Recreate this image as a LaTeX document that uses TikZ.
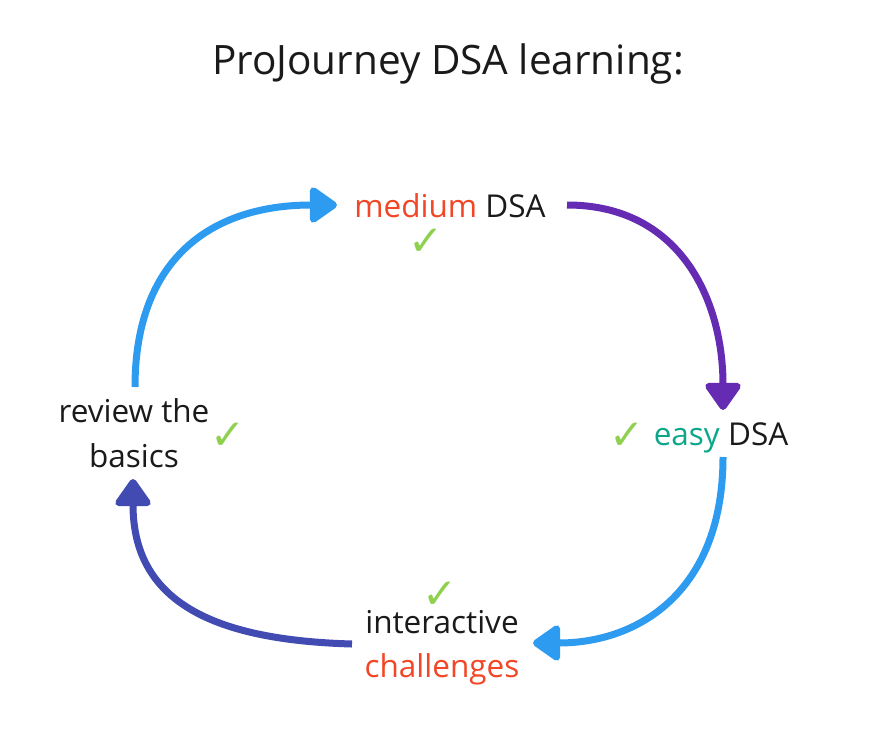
\documentclass[tikz,border=0pt]{standalone}
\usepackage{fontspec}
\setmainfont{Open Sans}
\newfontfamily\symfont{DejaVu Sans}
\usetikzlibrary{arrows.meta}
\definecolor{mblue}{HTML}{2D9BF0}
\definecolor{mviolet}{HTML}{652CB3}
\definecolor{mindigo}{HTML}{414BB2}
\definecolor{mred}{HTML}{F24726}
\definecolor{mteal}{HTML}{0CA789}
\definecolor{mgreen}{HTML}{8FD14F}
\definecolor{mtext}{HTML}{1A1A1A}
\newcommand{\tickmark}{\raisebox{-0.31em}{✓}}
\begin{document}
\begin{tikzpicture}[x=1pt,y=-1pt,
  lbl/.style={anchor=base, inner sep=0pt, text height=0.76em, text depth=0.24em, font=\fontsize{31.5}{40}\selectfont, text=mtext},
  ttl/.style={anchor=base, inner sep=0pt, font=\fontsize{40.5}{44}\selectfont, text=mtext},
  tick/.style={inner sep=0pt, text height=0.6em, text depth=0pt, font=\fontsize{42}{42}\symfont, text=mgreen},
  arr/.style={line width=7pt, -{Triangle[length=30pt,width=40pt,round]}}
]
\useasboundingbox (0,0) rectangle (885,741);
\fill[white] (0,0) rectangle (885,741);

\node[ttl] (title) at (448,75) {ProJourney DSA learning:};

\node[lbl] (medium) at (450,217) {\textcolor{mred}{medium} DSA};
\node[tick] (tmed) at (426,239) {\tickmark};

\node[lbl] (easy) at (721,445) {\textcolor{mteal}{easy} DSA};
\node[tick] (teasy) at (627,433) {\tickmark};

\node[lbl] (rev1) at (134,422) {review the};
\node[lbl] (rev2) at (134,467) {basics};
\node[tick] (trev) at (228,433) {\tickmark};

\node[lbl] (int1) at (442,633) {interactive};
\node[lbl,text=mred] (int2) at (442,677) {challenges};
\node[tick] (tint) at (440,592) {\tickmark};

\coordinate (a1s) at (135,387);
\coordinate (a1e) at (337,205);
\coordinate (a2s) at (567,205);
\coordinate (a2e) at (723,410);
\coordinate (a3s) at (723,457);
\coordinate (a3e) at (533,643);
\coordinate (a4s) at (352,644);
\coordinate (a4e) at (133,479);

\draw[arr,mblue] (a1s) .. controls (135,260) and (210,205) .. (a1e);
\draw[arr,mviolet] (a2s) .. controls (680,205) and (723,300) .. (a2e);
\draw[arr,mblue] (a3s) .. controls (723,590) and (640,643) .. (a3e);
\draw[arr,mindigo] (a4s) .. controls (210,640) and (133,600) .. (a4e);
\end{tikzpicture}
\end{document}
